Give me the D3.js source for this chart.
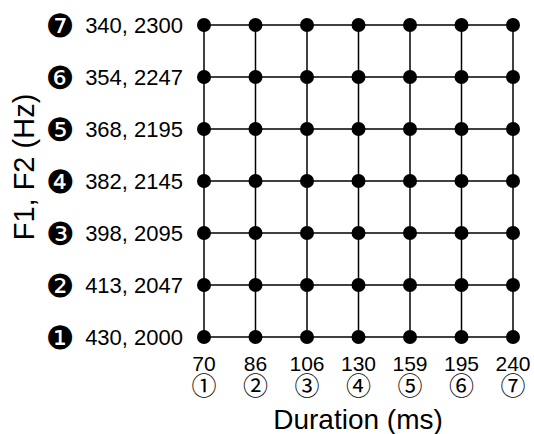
<!DOCTYPE html>
<html>
<head>
<meta charset="utf-8">
<script src="https://cdn.jsdelivr.net/npm/d3@7"></script>
<style>
  html, body { margin: 0; padding: 0; background: #fff; }
  svg { display: block; }
  text { font-family: "Liberation Sans", Arial, Helvetica, sans-serif; fill: #000; }
</style>
</head>
<body>
<svg id="chart" width="534" height="434"></svg>
<script>
// Duration continuum (ms), steps 1-7
const durations = [70, 86, 106, 130, 159, 195, 240];
const durationMarks = ["①", "②", "③", "④", "⑤", "⑥", "⑦"];
// Formant continuum (Hz), steps 1-7
const f1Values = [430, 413, 398, 382, 368, 354, 340];
const f2Values = [2000, 2047, 2095, 2145, 2195, 2247, 2300];
const formantMarks = ["❶", "❷", "❸", "❹", "❺", "❻", "❼"];

const steps = d3.range(7);
const svg = d3.select("#chart");

const x = d3.scalePoint().domain(steps).range([204, 513]);
const y = d3.scalePoint().domain(steps).range([337, 25]);

// grid lines joining stimuli
const grid = svg.append("g").attr("stroke", "#000").attr("stroke-width", 1.5);
grid.selectAll("line.row").data(steps).join("line")
  .attr("class", "row")
  .attr("x1", x(0)).attr("x2", x(6))
  .attr("y1", d => y(d)).attr("y2", d => y(d));
grid.selectAll("line.col").data(steps).join("line")
  .attr("class", "col")
  .attr("x1", d => x(d)).attr("x2", d => x(d))
  .attr("y1", y(0)).attr("y2", y(6));

// one dot per duration x formant stimulus
const cells = d3.cross(steps, steps);
svg.append("g").selectAll("circle").data(cells).join("circle")
  .attr("cx", d => x(d[0]))
  .attr("cy", d => y(d[1]))
  .attr("r", 7)
  .attr("fill", "#000");

// x-axis labels: duration value and step number
const xLab = svg.append("g");
xLab.selectAll("text.val").data(steps).join("text")
  .attr("class", "val")
  .attr("x", d => x(d)).attr("y", 371)
  .attr("text-anchor", "middle")
  .style("font-size", "21px")
  .text(d => durations[d]);
xLab.selectAll("text.step").data(steps).join("text")
  .attr("class", "step")
  .attr("x", d => x(d)).attr("y", 395)
  .attr("text-anchor", "middle")
  .style("font-family", "'Noto Sans CJK JP', sans-serif")
  .style("font-size", "25px")
  .text(d => durationMarks[d]);

// y-axis labels: step number then F1, F2
const yLab = svg.append("g");
yLab.selectAll("text.mark").data(steps).join("text")
  .attr("class", "mark")
  .attr("x", 60).attr("y", d => y(d) + 12)
  .attr("text-anchor", "middle")
  .style("font-family", "'DejaVu Sans', sans-serif")
  .style("font-size", "32px")
  .text(d => formantMarks[d]);
yLab.selectAll("text.val").data(steps).join("text")
  .attr("class", "val")
  .attr("x", 183).attr("y", d => y(d) + 8)
  .attr("text-anchor", "end")
  .style("font-size", "22px")
  .text(d => `${f1Values[d]}, ${f2Values[d]}`);

// axis titles
svg.append("text")
  .attr("x", 358).attr("y", 429)
  .attr("text-anchor", "middle")
  .style("font-size", "28px")
  .text("Duration (ms)");
svg.append("text")
  .attr("transform", "translate(34,167) rotate(-90)")
  .attr("text-anchor", "middle")
  .style("font-size", "29px")
  .text("F1, F2 (Hz)");
</script>
</body>
</html>
